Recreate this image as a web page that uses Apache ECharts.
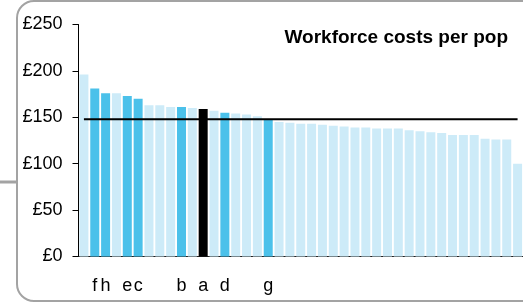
<!DOCTYPE html>
<html>
<head>
<meta charset="utf-8">
<script src="https://cdn.jsdelivr.net/npm/echarts@6/dist/echarts.min.js"></script>
<style>
  html, body { margin: 0; padding: 0; background: #fff; }
  #chart { width: 523px; height: 302px; }
</style>
</head>
<body>
<div id="chart"></div>
<script>
// bar heights (£ per pop), sorted high to low
var costs = [196, 181, 176, 176, 173, 170, 163, 163, 161, 161,
             160, 159, 157, 155, 154, 153, 151, 147, 145, 144,
             143, 143, 142, 141, 140, 139, 139, 138, 138, 138,
             136, 135, 134, 133, 131, 131, 131, 127, 126, 126, 100];
// letter label under a bar, '' = no label
var labels = ['', 'f', 'h', '', 'e', 'c', '', '', '', 'b',
              '', 'a', '', 'd', '', '', '', 'g', '', '',
              '', '', '', '', '', '', '', '', '', '',
              '', '', '', '', '', '', '', '', '', '', ''];
var average = 148;
var yTicks = [0, 50, 100, 150, 200, 250];

var cats = [];
for (var i = 0; i < costs.length; i++) cats.push('c' + i);

var barData = [];
for (var i = 0; i < costs.length; i++) {
  var col = '#cdebf8';
  if (labels[i] === 'a') col = '#000000';
  else if (labels[i] !== '') col = '#4bc1ea';
  barData.push({ value: costs[i], itemStyle: { color: col } });
}
var avgData = costs.map(function () { return average; });

var myChart = echarts.init(document.getElementById('chart'));
myChart.setOption({
  animation: false,
  title: {
    text: 'Workforce costs per pop',
    right: 10, top: 23,
    textStyle: { fontFamily: 'Liberation Sans', fontSize: 19, fontWeight: 'bold', color: '#000' }
  },
  grid: { left: 78.5, right: 0, top: 24.5, bottom: 45.5 },
  xAxis: {
    type: 'category',
    data: cats,
    axisLine: { lineStyle: { color: '#222', width: 1 } },
    axisTick: { show: false },
    axisLabel: {
      interval: 0, margin: 21,
      fontFamily: 'Liberation Sans', fontSize: 18, color: '#000',
      formatter: function (v, idx) { return labels[idx]; }
    }
  },
  yAxis: {
    type: 'value',
    min: yTicks[0], max: yTicks[yTicks.length - 1], interval: 50,
    splitLine: { show: false },
    axisLine: { show: true, lineStyle: { color: '#000', width: 1 } },
    axisTick: { show: true, length: 6, lineStyle: { color: '#000' } },
    axisLabel: {
      margin: 16,
      fontFamily: 'Liberation Sans', fontSize: 18, color: '#000',
      formatter: function (v) { return '£' + v; }
    }
  },
  series: [{
    type: 'bar',
    data: barData,
    barWidth: 9
  }, {
    type: 'line',
    data: avgData,
    symbol: 'none',
    z: 5,
    lineStyle: { color: '#000', width: 2 }
  }],
  graphic: [{
    type: 'rect',
    shape: { x: 17, y: 1, width: 560, height: 300, r: 17 },
    style: { fill: null, stroke: '#a3a3a3', lineWidth: 2 },
    silent: true
  }, {
    type: 'line',
    shape: { x1: 0, y1: 182, x2: 16, y2: 182 },
    style: { stroke: '#a3a3a3', lineWidth: 3 },
    silent: true
  }]
});
</script>
</body>
</html>
